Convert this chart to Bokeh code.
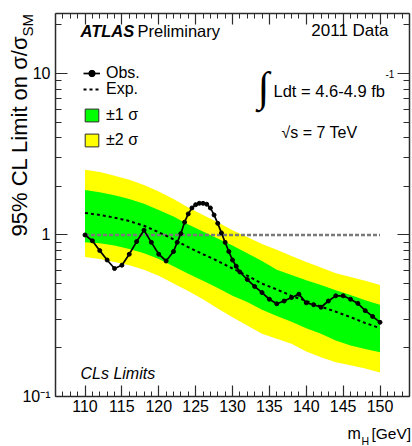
from bokeh.plotting import figure
from bokeh.models import (Range1d, FixedTicker, LinearAxis, LogAxis, Label,
                          Legend, LegendItem)
from bokeh.embed import file_html
from bokeh.resources import INLINE
import math

# Observed 95% CL limit on sigma/sigma_SM versus Higgs mass
obs_mass = [110, 111, 112, 113, 114, 115, 116, 117, 118, 119, 120, 121, 122,
            122.5, 123, 123.5, 124, 124.5, 125, 125.5, 126, 126.5, 127, 127.5,
            128, 128.5, 129, 129.5, 130, 130.5, 131, 132, 133, 134, 135, 136,
            137, 138, 139, 140, 141, 142, 143, 144, 145, 146, 147, 148, 149, 150]
obs_limit = [1.00, 0.92, 0.80, 0.70, 0.62, 0.65, 0.76, 0.91, 1.07, 0.90, 0.76,
             0.69, 0.79, 0.90, 1.02, 1.20, 1.35, 1.47, 1.54, 1.57, 1.57, 1.55,
             1.47, 1.33, 1.18, 1.03, 0.90, 0.79, 0.70, 0.64, 0.59, 0.53, 0.48,
             0.44, 0.40, 0.375, 0.39, 0.41, 0.43, 0.38, 0.37, 0.357, 0.39, 0.42,
             0.42, 0.40, 0.377, 0.34, 0.313, 0.288]

# Expected limit (median) with the +-1 sigma and +-2 sigma bands
exp_mass = [110, 112, 114, 116, 118, 120, 122, 124, 126, 128, 130, 132, 134,
            136, 138, 140, 142, 144, 146, 148, 150]
exp_median = [1.37, 1.33, 1.28, 1.22, 1.14, 1.04, 0.94, 0.84, 0.76, 0.69, 0.62,
              0.56, 0.50, 0.46, 0.42, 0.39, 0.36, 0.335, 0.31, 0.285, 0.265]
exp_plus2 = [2.53, 2.45, 2.33, 2.20, 2.04, 1.86, 1.67, 1.48, 1.33, 1.20, 1.07,
             0.97, 0.88, 0.81, 0.74, 0.68, 0.63, 0.58, 0.55, 0.52, 0.49]
exp_plus1 = [1.90, 1.84, 1.76, 1.67, 1.56, 1.43, 1.30, 1.16, 1.05, 0.95, 0.86,
             0.77, 0.69, 0.61, 0.565, 0.525, 0.49, 0.455, 0.425, 0.395, 0.37]
exp_minus1 = [0.90, 0.89, 0.86, 0.82, 0.77, 0.71, 0.64, 0.575, 0.52, 0.47, 0.42,
              0.385, 0.345, 0.315, 0.29, 0.265, 0.245, 0.222, 0.207, 0.197, 0.188]
exp_minus2 = [0.73, 0.71, 0.68, 0.65, 0.61, 0.56, 0.50, 0.45, 0.40, 0.35, 0.31,
              0.275, 0.245, 0.228, 0.212, 0.19, 0.175, 0.163, 0.156, 0.149, 0.141]

# SM reference line
sm_mass = [110, 150]
sm_ratio = [1, 1]

# Axis extent and ticks
x_lo, x_hi = 106, 154
y_lo, y_hi = 0.1, 23.5
x_major = [110, 115, 120, 125, 130, 135, 140, 145, 150]
x_minor = list(range(106, 155))
y_major = [0.1, 1, 10]
y_major_text = ["10\u207b\u00b9", "1", "10"]
y_minor = [0.2, 0.3, 0.4, 0.5, 0.6, 0.7, 0.8, 0.9,
           2, 3, 4, 5, 6, 7, 8, 9, 20]

FONT = "'Liberation Sans', Arial, sans-serif"
GREEN = "#00ff00"
YELLOW = "#ffff00"
FRAME = "#2b2b2b"

# Canvas size and the pixel box of the axes inside it
W, H = 412, 446
BOX_L, BOX_R, BOX_T, BOX_B = 55, 409, 13, 396

kx = (x_hi - x_lo) / (BOX_R - BOX_L)
x_start = x_lo - BOX_L * kx
x_end = x_hi + (W - BOX_R) * kx
ly0, ly1 = math.log10(y_lo), math.log10(y_hi)
ky = (ly1 - ly0) / (BOX_B - BOX_T)
y_start = 10 ** (ly0 - (H - BOX_B) * ky)
y_end = 10 ** (ly1 + BOX_T * ky)

p = figure(width=W, height=H, y_axis_type="log",
           x_range=Range1d(x_start, x_end), y_range=Range1d(y_start, y_end),
           output_backend="svg", toolbar_location=None,
           min_border_left=0, min_border_right=0,
           min_border_top=0, min_border_bottom=0)
p.xgrid.visible = False
p.ygrid.visible = False
p.outline_line_color = None
p.background_fill_color = "white"
p.border_fill_color = "white"

x_ticker = FixedTicker(ticks=x_major, minor_ticks=x_minor)
y_ticker = FixedTicker(ticks=y_major, minor_ticks=y_minor)


def style_axis(ax, major_len, minor_len, bounds, where, blank=None):
    ax.fixed_location = where
    ax.bounds = bounds
    ax.major_tick_in = major_len
    ax.major_tick_out = 0
    ax.minor_tick_in = minor_len
    ax.minor_tick_out = 0
    ax.axis_line_color = FRAME
    ax.axis_line_width = 1.5
    ax.major_tick_line_color = FRAME
    ax.minor_tick_line_color = FRAME
    ax.major_tick_line_width = 1.2
    ax.minor_tick_line_width = 1
    ax.major_label_text_font = FONT
    ax.major_label_text_font_size = "16px"
    ax.major_label_text_color = "black"
    if blank is not None:
        # mirrored side: ticks only
        ax.major_label_overrides = {t: "" for t in blank}
        ax.major_label_standoff = 0


xa = p.xaxis[0]
xa.ticker = x_ticker
style_axis(xa, 11, 5, (x_lo, x_hi), y_lo)
xa.major_label_standoff = 3

ya = p.yaxis[0]
ya.ticker = y_ticker
style_axis(ya, 12, 6, (y_lo, y_hi), x_lo)
ya.major_label_overrides = dict(zip(y_major, y_major_text))
ya.major_label_standoff = 5

top = LinearAxis(ticker=x_ticker)
style_axis(top, 11, 5, (x_lo, x_hi), y_hi, x_major)
p.add_layout(top, "above")

right = LogAxis(ticker=y_ticker)
style_axis(right, 12, 6, (y_lo, y_hi), x_hi, y_major)
p.add_layout(right, "right")

# Bands, SM line, expected and observed limits
p.varea(x=exp_mass, y1=exp_minus2, y2=exp_plus2, fill_color=YELLOW)
p.varea(x=exp_mass, y1=exp_minus1, y2=exp_plus1, fill_color=GREEN)
p.line(sm_mass, sm_ratio, line_color="#7a7a7a", line_width=2.5, line_dash="4 2")
exp_r = p.line(exp_mass, exp_median, line_color="black", line_width=2,
               line_dash="3 3")

# Outlined swatches for the band legend (zero-size quads under the first point)
box1 = p.quad(left=obs_mass[:1], right=obs_mass[:1], top=obs_limit[:1],
              bottom=obs_limit[:1], fill_color=GREEN, line_color=FRAME,
              line_width=1)
box2 = p.quad(left=obs_mass[:1], right=obs_mass[:1], top=obs_limit[:1],
              bottom=obs_limit[:1], fill_color=YELLOW, line_color=FRAME,
              line_width=1)

obs_line = p.line(obs_mass, obs_limit, line_color="black", line_width=1.7)
obs_pts = p.scatter(obs_mass, obs_limit, size=4, color="black")


def legend(label, renderers, cx, cy):
    lg = Legend(items=[LegendItem(label=label, renderers=renderers)],
                location=(cx, H - cy - 9), padding=0, margin=0,
                spacing=0, glyph_width=17, glyph_height=16, label_standoff=6,
                border_line_color=None, background_fill_alpha=0,
                label_text_font=FONT, label_text_font_size="16px",
                label_text_color="black")
    p.add_layout(lg, "center")


legend("Obs.", [obs_line, obs_pts], 83, 73)
legend("Exp.", [exp_r], 83, 89)
legend("\u00b11 \u03c3", [box1], 83, 115)
legend("\u00b12 \u03c3", [box2], 83, 140)


def put(text, cx, cy, size, font=FONT, style="normal", align="left", angle=0):
    p.add_layout(Label(x=cx, y=H - cy, x_units="screen", y_units="screen",
                       text=text, text_font=font, text_font_size=size,
                       text_font_style=style, text_align=align,
                       text_baseline="middle", text_color="black",
                       angle=angle))


put("ATLAS", 80, 30, "16.5px", style="bold italic")
put("Preliminary", 137, 30, "16.5px")
put("2011 Data", 388, 30, "17px", align="right")
put("\u222b", 263, 86, "42px", font="'Liberation Serif', serif", align="center")
put("Ldt = 4.6-4.9 fb", 273, 90, "16.5px")
put("-1", 385, 73, "10px")
put("\u221as = 7 TeV", 281, 132, "16px")
put("CLs Limits", 80, 373, "16px", style="italic")
put("m", 347, 433, "16px")
put("H", 361, 440, "10.5px")
put("[GeV]", 371, 433, "15.5px")
put("95% CL Limit on \u03c3/\u03c3", 19, 236, "22px", angle=math.pi / 2)
put("SM", 27, 36, "15px", angle=math.pi / 2)

open("out.html", "w").write(file_html(p, INLINE))
